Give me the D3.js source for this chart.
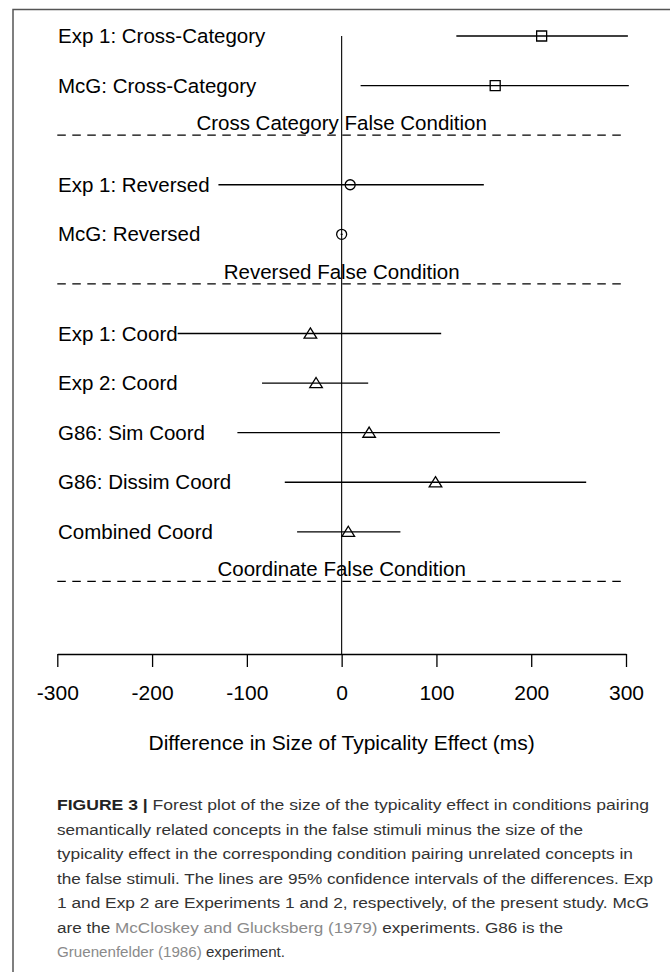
<!DOCTYPE html>
<html>
<head>
<meta charset="utf-8">
<script src="https://cdn.jsdelivr.net/npm/d3@7"></script>
<style>
  html, body { margin: 0; padding: 0; background: #fff; }
  svg { display: block; }
</style>
</head>
<body>
<svg id="chart" width="670" height="972"></svg>
<script>
// ---- data ----
const labels = ["Exp 1: Cross-Category", "McG: Cross-Category", "Exp 1: Reversed", "McG: Reversed",
                "Exp 1: Coord", "Exp 2: Coord", "G86: Sim Coord", "G86: Dissim Coord", "Combined Coord"];
const rows      = [1, 2, 4, 5, 7, 8, 9, 10, 11];
const estimates = [211, 162, 9, 0, -33, -27, 29, 99, 7];
const lower     = [121, 20, -130, -1, -173, -84, -110, -60, -47];
const upper     = [302, 303, 150, 1, 105, 28, 167, 258, 62];
const shapes    = ["square", "square", "circle", "circle", "triangle", "triangle", "triangle", "triangle", "triangle"];
const headers   = ["Cross Category False Condition", "Reversed False Condition", "Coordinate False Condition"];
const headerRows = [3, 6, 12];
const xTicks    = [-300, -200, -100, 0, 100, 200, 300];
const axisTitle = "Difference in Size of Typicality Effect (ms)";

const captionLines = [
  [{t: "FIGURE 3 | ", b: true}, {t: "Forest plot of the size of the typicality effect in conditions pairing"}],
  [{t: "semantically related concepts in the false stimuli minus the size of the"}],
  [{t: "typicality effect in the corresponding condition pairing unrelated concepts in"}],
  [{t: "the false stimuli. The lines are 95% confidence intervals of the differences. Exp"}],
  [{t: "1 and Exp 2 are Experiments 1 and 2, respectively, of the present study. McG"}],
  [{t: "are the "}, {t: "McCloskey and Glucksberg (1979)", link: true}, {t: " experiments. G86 is the"}],
  [{t: "Gruenenfelder (1986)", link: true}, {t: " experiment."}]
];
const captionEnds = [649, 583, 633, 653, 649, 563, 285];

// ---- layout ----
const svg = d3.select("#chart");
const font = "'Liberation Sans', Arial, Helvetica, sans-serif";

const x = d3.scaleLinear().domain([-300, 300]).range([57.3, 626]);
const y = d3.scaleLinear().domain([1, 13]).range([36, 631]);
const axisY = 654;

// outer figure frame
svg.append("path")
  .attr("d", "M13,972 L13,9.5 L670,9.5")
  .attr("fill", "none").attr("stroke", "#555").attr("stroke-width", 1.5);

// zero line
svg.append("line")
  .attr("x1", x(0)).attr("x2", x(0))
  .attr("y1", y(1)).attr("y2", axisY)
  .attr("stroke", "#000").attr("stroke-width", 1.1);

// dashed separators + headers
headerRows.forEach((r, i) => {
  svg.append("line")
    .attr("x1", x(-300)).attr("x2", x(300))
    .attr("y1", y(r)).attr("y2", y(r))
    .attr("stroke", "#000").attr("stroke-width", 1.1)
    .attr("stroke-dasharray", "8.5,6.5");
  svg.append("text")
    .attr("x", x(0)).attr("y", y(r) - 5)
    .attr("text-anchor", "middle")
    .attr("font-family", font).attr("font-size", 20.5)
    .attr("fill", "#000")
    .text(headers[i]);
});

// labels
svg.selectAll("text.lab").data(labels).join("text")
  .attr("class", "lab")
  .attr("x", 58).attr("y", (d, i) => y(rows[i]) + 7)
  .attr("font-family", font).attr("font-size", 20.5)
  .attr("fill", "#000")
  .text(d => d);

// CI lines
svg.selectAll("line.ci").data(labels).join("line")
  .attr("class", "ci")
  .attr("x1", (d, i) => x(lower[i])).attr("x2", (d, i) => x(upper[i]))
  .attr("y1", (d, i) => y(rows[i])).attr("y2", (d, i) => y(rows[i]))
  .attr("stroke", "#000").attr("stroke-width", 1.3);

// markers
function markerPath(s) {
  if (s === "square") return "M-5,-5H5V5H-5Z";
  if (s === "circle") return "M5,0A5,5 0 1,1 -5,0A5,5 0 1,1 5,0Z";
  return "M0,-5.6L6.3,4.6H-6.3Z";
}
svg.selectAll("path.mk").data(labels).join("path")
  .attr("class", "mk")
  .attr("transform", (d, i) => `translate(${x(estimates[i])},${y(rows[i])})`)
  .attr("d", (d, i) => markerPath(shapes[i]))
  .attr("fill", "none").attr("stroke", "#000").attr("stroke-width", 1.3);

// x axis
const ax = svg.append("g").attr("transform", `translate(0,${axisY})`)
  .call(d3.axisBottom(x).tickValues(xTicks).tickSize(13).tickSizeOuter(0).tickPadding(18)
        .tickFormat(d3.format("d")));
ax.select(".domain").attr("stroke", "#000").attr("stroke-width", 1.3);
ax.selectAll(".tick line").attr("stroke", "#000").attr("stroke-width", 1.3);
ax.selectAll(".tick text").attr("font-family", font).attr("font-size", 21).attr("fill", "#000")
  .text(d => d < 0 ? "-" + Math.abs(d) : String(d));

svg.append("text")
  .attr("x", x(0)).attr("y", 750)
  .attr("text-anchor", "middle")
  .attr("font-family", font).attr("font-size", 21).attr("fill", "#000")
  .text(axisTitle);

// caption
const cap = svg.append("g");
captionLines.forEach((parts, i) => {
  const t = cap.append("text")
    .attr("x", 57).attr("y", 810 + i * 24.5)
    .attr("font-family", font).attr("font-size", 15.5)
    .attr("fill", "#333")
    .attr("xml:space", "preserve");
  parts.forEach(p => {
    t.append("tspan")
      .attr("font-weight", p.b ? "bold" : null)
      .attr("fill", p.b ? "#222" : (p.link ? "#8a8a8a" : "#333"))
      .text(p.t);
  });
  t.attr("textLength", captionEnds[i] - 57).attr("lengthAdjust", "spacingAndGlyphs");
});
</script>
</body>
</html>
